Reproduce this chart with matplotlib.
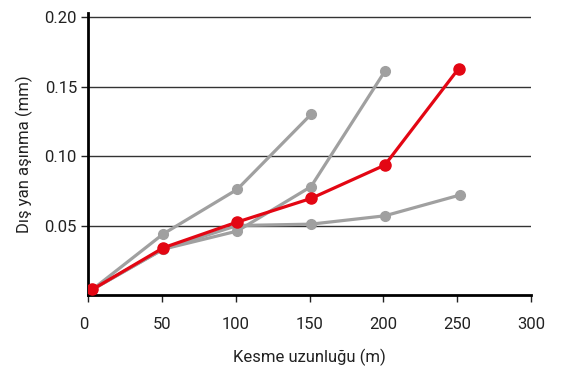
import matplotlib.pyplot as plt

plt.rcParams['font.family'] = ['Roboto', 'DejaVu Sans']

# cutting length (m)
x_full = [3, 51, 101, 151, 201, 251]

# grey comparison series
grey_a_x = [3, 51, 101, 151]
grey_a_y = [0.004, 0.044, 0.076, 0.130]

grey_b_x = [3, 51, 101, 151, 201]
grey_b_y = [0.004, 0.033, 0.046, 0.078, 0.161]

grey_c_x = [3, 51, 101, 151, 201, 252]
grey_c_y = [0.004, 0.033, 0.050, 0.051, 0.057, 0.072]

# highlighted series
red_y = [0.004, 0.034, 0.0525, 0.0695, 0.0935, 0.163]

xticks = [0, 50, 100, 150, 200, 250, 300]
yticks = [0.05, 0.10, 0.15, 0.20]

fig = plt.figure(figsize=(5.69, 3.74), dpi=100)
ax = fig.add_axes([88/569, 1 - 295/374, (531 - 88)/569, (295 - 13)/374])

grey = '#a0a0a0'
red = '#e30613'

for gx, gy in [(grey_a_x, grey_a_y), (grey_b_x, grey_b_y), (grey_c_x, grey_c_y)]:
    ax.plot(gx, gy, color=grey, lw=2.3, marker='o', markersize=7, zorder=3)

ax.plot(x_full, red_y, color=red, lw=2.3, marker='o', markersize=8, zorder=4)

ax.set_xlim(0, 300)
ax.set_ylim(0, 0.203)
ax.set_xticks(xticks)
ax.set_yticks(yticks)
ax.set_yticklabels([f'{v:.2f}' for v in yticks])

for v in yticks:
    ax.axhline(v, color='#333333', lw=1, zorder=1)

for s in ['top', 'right']:
    ax.spines[s].set_visible(False)
ax.spines['left'].set_linewidth(2)
ax.spines['bottom'].set_linewidth(2)

ax.tick_params(axis='both', labelsize=12, colors='#222222', length=5, width=1)
ax.tick_params(axis='x', pad=11)
ax.tick_params(axis='y', pad=3)

# the "0" label sits a little left of its tick in the original
ax.get_xticklabels()[0].set_horizontalalignment('right')
ax.get_xticklabels()[0].set_x(0)

ax.set_xlabel('Kesme uzunluğu (m)', fontsize=12, color='#222222', labelpad=12)
ax.set_ylabel('Dış yan aşınma (mm)', fontsize=12, color='#222222', labelpad=8)

fig.savefig('out.png', dpi=100)
